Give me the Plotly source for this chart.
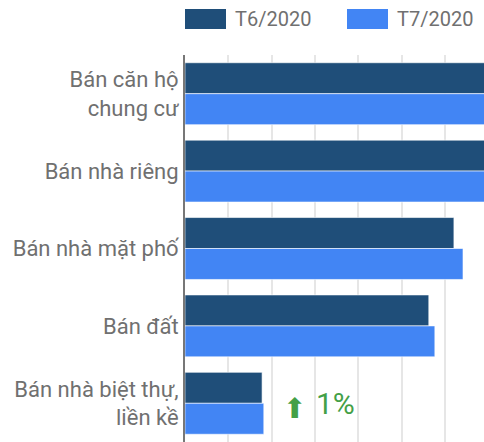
import plotly.graph_objects as go

categories = ["Bán căn hộ<br>chung cư", "Bán nhà riêng", "Bán nhà mặt phố", "Bán đất", "Bán nhà biệt thự,<br>liền kề"]
series_names = ["T6/2020", "T7/2020"]
t6_values = [80, 78, 62.1, 56.3, 17.8]
t7_values = [82, 80, 64.2, 57.7, 18.2]
colors = ["#1f4e79", "#4285f4"]
change_label = "1%"

FONT = "Roboto"
GRAY = "#707070"

fig = go.Figure()
for name, vals, col in zip(series_names, [t6_values, t7_values], colors):
    fig.add_trace(go.Bar(
        y=categories, x=vals, name=name, orientation="h",
        marker=dict(color=col, line=dict(color="rgba(255,255,255,0.6)", width=1)),
        showlegend=False,
    ))

fig.update_layout(
    width=484, height=442,
    margin=dict(l=185, r=0, t=55, b=0),
    plot_bgcolor="white", paper_bgcolor="white",
    barmode="group", bargap=0.2, bargroupgap=0.0,
    font=dict(family=FONT, size=20, color=GRAY),
    xaxis=dict(range=[0, 69.05], dtick=10, showticklabels=False,
               showgrid=True, gridcolor="#e6e6e6", gridwidth=2, zeroline=False,
               fixedrange=True),
    yaxis=dict(autorange="reversed", showline=True, linecolor="#777777", linewidth=2,
               ticks="", ticklabelstandoff=0, tickfont=dict(size=22, color=GRAY),
               showgrid=False),
)

# legend drawn manually
legend_items = [(185, 226, 233), (347, 388, 395)]
for (x0, x1, tx), name, col in zip(legend_items, series_names, colors):
    fig.add_shape(type="rect", xref="paper", yref="paper",
                  x0=(x0 - 185) / 299, x1=(x1 - 185) / 299,
                  y0=(442 - 29) / 387, y1=(442 - 9) / 387,
                  fillcolor=col, line=dict(width=0))
    fig.add_annotation(xref="paper", yref="paper", x=(tx - 185) / 299, y=(442 - 19) / 387,
                       text=name, showarrow=False, xanchor="left", yanchor="middle",
                       font=dict(size=20, color=GRAY, family=FONT))

fig.add_annotation(xref="x", yref="y", x=25.4, y=categories[4], text="⬆",
                   showarrow=False, xanchor="center", yanchor="middle", yshift=-5,
                   font=dict(size=28, color="#43a047", family="DejaVu Sans"))
fig.add_annotation(xref="x", yref="y", x=34.8, y=categories[4], text=change_label,
                   showarrow=False, xanchor="center", yanchor="middle", yshift=0,
                   font=dict(size=30, color="#43a047", family=FONT))

fig.write_html("out.html", config={"displayModeBar": False},
               post_script="document.body.style.margin='0';")
